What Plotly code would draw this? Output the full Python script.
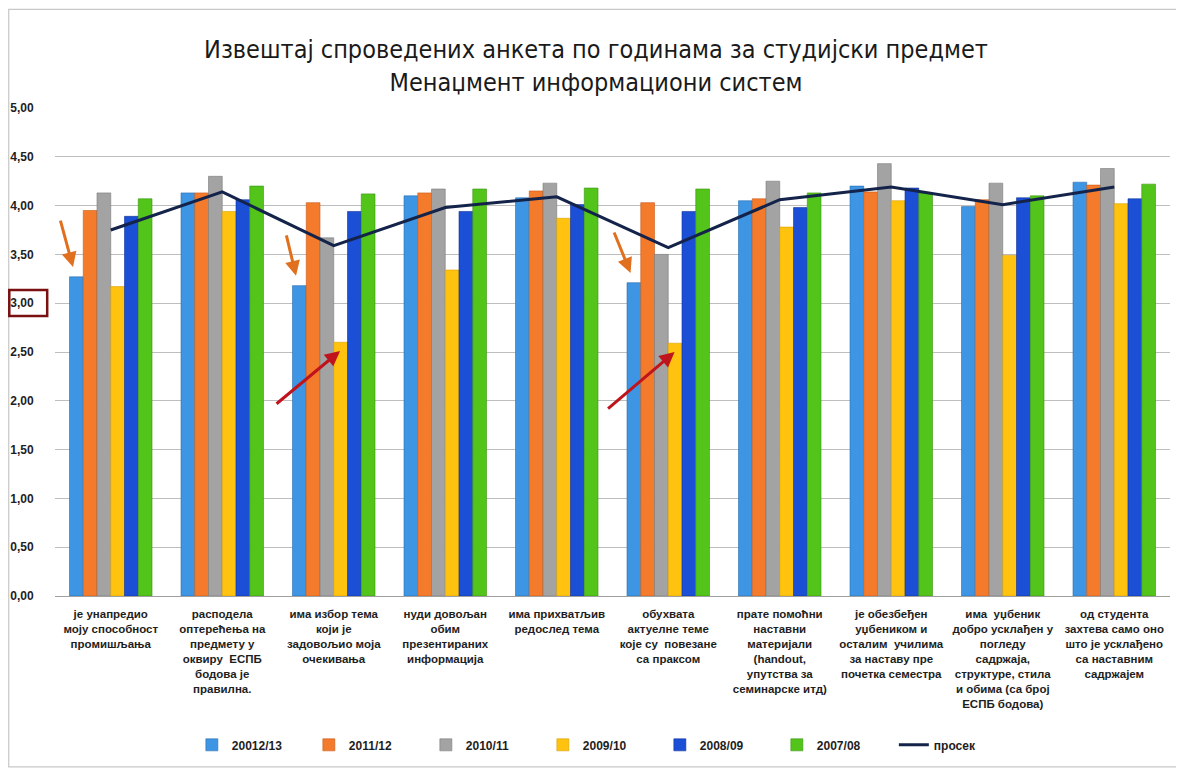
import plotly.graph_objects as go

categories = [
    "је унапредио<br>моју способност<br>промишљања",
    "расподела<br>оптерећења на<br>предмету у<br>оквиру  ЕСПБ<br>бодова је<br>правилна.",
    "има избор тема<br>који је<br>задовољио моја<br>очекивања",
    "нуди довољан<br>обим<br>презентираних<br>информација",
    "има прихватљив<br>редослед тема",
    "обухвата<br>актуелне теме<br>које су  повезане<br>са праксом",
    "прате помоћни<br>наставни<br>материјали<br>(handout,<br>упутства за<br>семинарске итд)",
    "је обезбеђен<br>уџбеником и<br>осталим  училима<br>за наставу пре<br>почетка семестра",
    "има  уџбеник<br>добро усклађен у<br>погледу<br>садржаја,<br>структуре, стила<br>и обима (са број<br>ЕСПБ бодова)",
    "од студента<br>захтева само оно<br>што је усклађено<br>са наставним<br>садржајем",
]

series_names = ["20012/13", "2011/12", "2010/11", "2009/10", "2008/09", "2007/08"]

v_2012_13 = [3.27, 4.13, 3.18, 4.10, 4.08, 3.21, 4.05, 4.20, 3.99, 4.24]
v_2011_12 = [3.95, 4.13, 4.03, 4.13, 4.15, 4.03, 4.07, 4.14, 4.06, 4.21]
v_2010_11 = [4.13, 4.30, 3.67, 4.17, 4.23, 3.50, 4.25, 4.43, 4.23, 4.38]
v_2009_10 = [3.17, 3.94, 2.60, 3.34, 3.87, 2.59, 3.78, 4.05, 3.49, 4.02]
v_2008_09 = [3.89, 4.06, 3.94, 3.94, 4.01, 3.94, 3.98, 4.18, 4.08, 4.07]
v_2007_08 = [4.07, 4.20, 4.12, 4.17, 4.18, 4.17, 4.13, 4.13, 4.10, 4.22]
prosek = [3.75, 4.14, 3.59, 3.98, 4.09, 3.57, 4.06, 4.19, 4.01, 4.19]

y_ticks = [0, 0.5, 1, 1.5, 2, 2.5, 3, 3.5, 4, 4.5, 5]

colors = ["#3D95E3", "#F47A2C", "#A3A3A3", "#FFC20E", "#1A4FD6", "#52C41A"]
edge = ["#2A6FB0", "#C85A18", "#7A7A7A", "#D9A000", "#0F3399", "#3A9410"]

values = [v_2012_13, v_2011_12, v_2010_11, v_2009_10, v_2008_09, v_2007_08]
x = list(range(len(categories)))

fig = go.Figure()
for name, vals, c, e in zip(series_names, values, colors, edge):
    fig.add_trace(go.Bar(x=x, y=vals, name=name, marker=dict(color=c, line=dict(color=e, width=0.6))))

fig.add_trace(go.Scatter(x=x, y=prosek, name="просек", mode="lines",
                         line=dict(color="#14234A", width=3)))

BARGAP = 0.26
bw = (1 - BARGAP) / 6
off_blue = -2.5 * bw
off_yellow = 0.5 * bw

annotations = []
# orange arrows pointing down to the low 2012/13 bars
for gi, ax, ay in [(0, -13, -48), (2, -10, -42), (5, -17, -42)]:
    annotations.append(dict(x=gi + off_blue - 0.03, y=v_2012_13[gi] + 0.1, xref="x", yref="y",
                            ax=ax, ay=ay, showarrow=True, arrowhead=2, arrowsize=1,
                            arrowwidth=3, arrowcolor="#E0701E", text=""))
# red arrows pointing to the low 2009/10 bars
for gi, ax, ay in [(2, -65, 54), (5, -68, 58)]:
    annotations.append(dict(x=gi + off_yellow - 0.005, y=v_2009_10[gi] - 0.09, xref="x", yref="y",
                            ax=ax, ay=ay, showarrow=True, arrowhead=2, arrowsize=1,
                            arrowwidth=3, arrowcolor="#C0141C", text=""))

shapes = [
    # highlight box around the 3,00 tick label
    dict(type="rect", xref="paper", yref="y", x0=-0.041, x1=-0.007, y0=2.87, y1=3.135,
         line=dict(color="#7A1010", width=2.5), fillcolor="rgba(0,0,0,0)"),
    # chart frame
    dict(type="rect", xref="paper", yref="paper", x0=-0.0415, x1=1.006, y0=-0.350, y1=1.202,
         line=dict(color="#C8C8C8", width=1.2), fillcolor="rgba(0,0,0,0)", layer="below"),
]

fig.update_layout(
    width=1176, height=765,
    margin=dict(l=47, r=14, t=100, b=177, autoexpand=False),
    paper_bgcolor="white", plot_bgcolor="white",
    barmode="group", bargap=BARGAP, bargroupgap=0,
    separators=",.",
    title=dict(text="Извештај спроведених анкета по годинама за студијски предмет<br>Менаџмент информациони систем",
               x=0.5, xanchor="center", y=0.9346, yanchor="middle",
               font=dict(family="Liberation Sans Narrow, DejaVu Sans Condensed, sans-serif", size=25, color="#1A1A1A")),
    font=dict(family="Liberation Sans, Arial, sans-serif", color="#222222"),
    xaxis=dict(tickmode="array", tickvals=x, ticktext=categories, range=[-0.5, len(categories) - 0.5],
               tickangle=0, showgrid=False, showline=True, linecolor="#A0A0A0",
               ticks="outside", ticklen=7, tickcolor="rgba(0,0,0,0)",
               tickfont=dict(size=11.5, color="#1E1E1E", weight="bold")),
    yaxis=dict(range=[0, 5], tickmode="array", tickvals=y_ticks, tickformat=".2f",
               showgrid=True, gridcolor="#BEBEBE", gridwidth=1, zeroline=False, showline=False,
               ticks="outside", ticklen=18, tickcolor="rgba(0,0,0,0)",
               tickfont=dict(size=12, color="#1E1E1E", weight="bold")),
    legend=dict(orientation="h", x=0.49, xanchor="center", y=-0.305, yanchor="middle",
                font=dict(size=12, color="#1E1E1E", weight="bold"), traceorder="normal",
                entrywidth=72, entrywidthmode="pixels"),
    annotations=annotations,
    shapes=shapes,
)

fig.write_html("out.html")
